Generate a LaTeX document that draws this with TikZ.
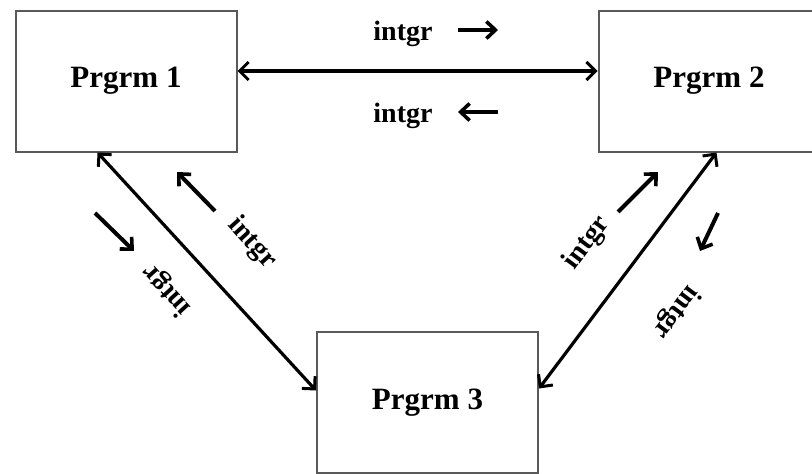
\documentclass[tikz,border=0pt]{standalone}
\usepackage{fontspec}
\setmainfont{Liberation Serif}
\usetikzlibrary{arrows.meta,calc}
\begin{document}
\begin{tikzpicture}[x=1pt,y=-1pt,
  prog/.style={draw=black!65,line width=2pt,fill=white,minimum width=221pt,minimum height=141pt,inner sep=0pt,font=\fontsize{31}{34}\selectfont\bfseries},
  lbl/.style={inner sep=0pt,font=\fontsize{28}{30}\selectfont\bfseries},
  tip/.style={Straight Barb[length=9pt,width=18pt,line width=3pt]},
  link/.style={line width=3.2pt,{Straight Barb[length=9pt,width=18pt,line width=3pt]}-{Straight Barb[length=9pt,width=18pt,line width=3pt]}},
  hint/.style={line width=4pt,-{Straight Barb[length=9pt,width=17pt,line width=3.6pt]}}]
\useasboundingbox (0,0) rectangle (812,474);
\clip (0,0) rectangle (812,474);
\fill[white] (0,0) rectangle (812,474);
\node[prog] (p1) at (126,81) {Prgrm 1};
\node[prog] (p2) at (709,81) {Prgrm 2};
\node[prog] (p3) at (427.5,402.5) {Prgrm 3};
% horizontal link
\coordinate (hy) at (400,71);
\draw[link,line width=3.8pt] (p1.east |- hy) -- (p2.west |- hy);
\node[lbl] (t12) at (403,34) {intgr};
\node[lbl] (t21) at (403,116) {intgr};
\coordinate (a1s) at (458,30); \coordinate (a1e) at (498,30);
\coordinate (a2s) at (498,112); \coordinate (a2e) at (458,112);
\draw[hint] (a1s) -- (a1e);
\draw[hint] (a2s) -- (a2e);
% left diagonal
\draw[link] ([xshift=83pt]p1.south west) -- ([yshift=12pt]p3.west);
\node[lbl,rotate=-47.7] (t13i) at (252,243) {intgr};
\node[lbl,rotate=132.3] (t13o) at (167,290) {intgr};
\coordinate (b1s) at (215,211); \coordinate (b1e) at (177,172);
\coordinate (b2s) at (95,213); \coordinate (b2e) at (134,251);
\draw[hint] (b1s) -- (b1e);
\draw[hint] (b2s) -- (b2e);
% right diagonal
\draw[link] ([xshift=119pt]p2.south west) -- ([yshift=14pt]p3.east);
\node[lbl,rotate=53.2] (t23i) at (587,243) {intgr};
\node[lbl,rotate=233.2] (t23o) at (676,312) {intgr};
\coordinate (c1s) at (618,212); \coordinate (c1e) at (658,172);
\coordinate (c2s) at (718,213); \coordinate (c2e) at (700,251);
\draw[hint] (c1s) -- (c1e);
\draw[hint] (c2s) -- (c2e);
\end{tikzpicture}
\end{document}
